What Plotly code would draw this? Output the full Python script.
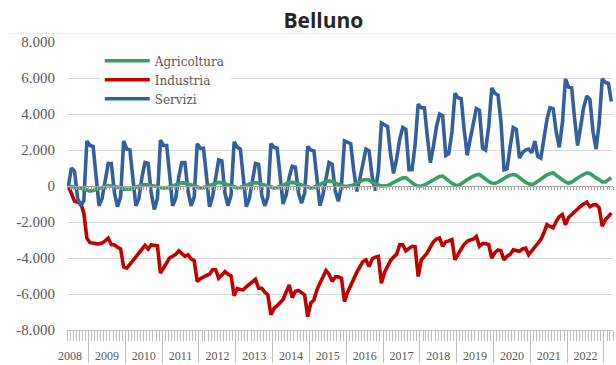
import pandas as pd
import plotly.graph_objects as go

chart_title = "Belluno"
first_month = "2008-06-01"
last_edge = "2023-04-01"
series_names = ["Agricoltura", "Industria", "Servizi"]
series_colors = ["#3a9f66", "#c00000", "#33609a"]

y_tickvals = [-8000, -6000, -4000, -2000, 0, 2000, 4000, 6000, 8000]
y_ticktext = ["-8.000", "-6.000", "-4.000", "-2.000", "0", "2.000", "4.000", "6.000", "8.000"]

# monthly values, Jun 2008 .. Mar 2023
agricoltura = (
    [0, -20, -50, -80, -120, -180, -250]
    + [-280, -250, -200, -120, -50, 0, 20, 0, -30, -60, -100, -180]
    + [-200, -180, -130, -60, 0, 50, 80, 70, 30, 0, -50, -120]
    + [-120, -100, -50, 20, 100, 150, 180, 160, 100, 50, 0, -80]
    + [-100, -80, -30, 50, 120, 180, 200, 180, 120, 50, 0, -80]
    + [-100, -80, -20, 50, 120, 170, 180, 170, 100, 40, -20, -90]
    + [-100, -80, -20, 60, 130, 190, 200, 180, 120, 60, 0, -80]
    + [-100, -80, 0, 100, 200, 250, 270, 250, 150, 80, 30, -20]
    + [-10, 0, 50, 150, 250, 330, 360, 330, 200, 100, 50, 0]
    + [0, 30, 100, 200, 300, 400, 450, 460, 300, 150, 50, 0]
    + [0, 50, 150, 250, 350, 450, 530, 550, 400, 250, 150, 60]
    + [30, 120, 250, 350, 450, 550, 620, 640, 500, 350, 250, 160]
    + [140, 220, 330, 420, 520, 600, 640, 600, 450, 300, 200, 120]
    + [80, 150, 280, 400, 500, 620, 700, 735, 600, 450, 350, 230]
    + [150, 220, 350, 450, 550, 650, 735, 700, 560, 450, 350, 220]
    + [220, 350, 460]
)

industria = (
    [0, -400, -850, -900, -950, -1500, -2900]
    + [-3150, -3200, -3200, -3220, -3170, -3050, -2900, -3250, -3270, -3400, -3500, -4500]
    + [-4560, -4350, -4150, -3950, -3750, -3550, -3300, -3500, -3260, -3300, -3320, -4840]
    + [-4550, -4280, -4000, -3900, -3800, -3600, -3750, -3910, -3820, -4050, -4150, -5300]
    + [-5150, -5030, -4970, -4900, -4650, -4650, -5120, -4950, -4750, -4900, -5000, -6100]
    + [-5700, -5750, -5770, -5600, -5450, -5310, -5180, -5680, -5680, -5900, -6050, -7150]
    + [-6800, -6650, -6500, -6300, -5900, -5500, -6200, -5850, -5800, -5950, -6050, -7260]
    + [-6500, -6330, -5800, -5400, -5000, -4700, -4900, -5300, -5050, -5050, -5120, -6420]
    + [-5900, -5500, -5100, -4800, -4500, -4200, -4100, -4470, -4050, -3950, -3910, -5400]
    + [-4800, -4400, -4150, -3950, -3800, -3260, -3260, -3600, -3450, -3350, -3380, -5030]
    + [-4100, -3900, -3720, -3400, -3100, -2950, -2890, -3350, -3100, -3050, -2980, -4100]
    + [-3750, -3500, -3250, -3070, -3000, -2950, -2800, -3350, -3200, -3200, -3260, -4000]
    + [-3700, -3550, -3600, -4100, -3900, -3800, -3550, -3600, -3630, -3500, -3450, -3820]
    + [-3600, -3450, -3200, -2980, -2600, -2150, -2250, -2330, -1960, -1700, -1590, -2150]
    + [-1750, -1590, -1400, -1250, -1120, -1000, -900, -1150, -1050, -1030, -1210, -2240]
    + [-1870, -1700, -1500]
)

servizi = (
    [0, 1000, 800, -700, -1100, -800, 2500]
    + [2250, 2200, 600, -1100, -700, 400, 1250, 1250, -400, -1150, -600, 2500]
    + [2050, 2000, 600, -1100, -700, 500, 1300, 1250, -400, -1300, -700, 2550]
    + [2250, 2250, 700, -1100, -700, 500, 1300, 1300, -300, -1100, -600, 2350]
    + [2100, 2100, 600, -1150, -600, 600, 1450, 1400, -400, -1100, -500, 2450]
    + [2150, 2050, 500, -1150, -700, 400, 1250, 1200, -500, -1100, -600, 2350]
    + [2150, 2100, 500, -1000, -500, 500, 1100, 1050, -400, -950, -400, 2200]
    + [2000, 1950, 500, -1100, -500, 500, 1300, 1200, -300, -850, 0, 2500]
    + [2400, 2350, 900, -300, 400, 1300, 2050, 1950, 500, -250, 800, 3500]
    + [3400, 3300, 1800, 700, 1500, 2600, 3250, 3150, 900, 900, 2300, 4550]
    + [4350, 4350, 2800, 1300, 2200, 3300, 4000, 3900, 1700, 1800, 3000, 5150]
    + [4900, 4850, 3200, 1700, 2600, 3600, 4300, 4200, 2100, 2000, 3300, 5450]
    + [5150, 5050, 3600, 900, 950, 2200, 3250, 3150, 1550, 1850, 2000, 2050]
    + [1850, 2500, 1650, 1550, 2600, 3700, 4350, 4300, 3000, 2150, 3500, 5950]
    + [5500, 5450, 3800, 2250, 3300, 4400, 5000, 4800, 3000, 2050, 3500, 5950]
    + [5750, 5700, 4700]
)

n = len(servizi)
months = pd.date_range(first_month, periods=n, freq="MS") + pd.Timedelta(days=14)

fig = go.Figure()
axes_for = ["x2", "x", "x"]
for name, vals, col, ax in zip(series_names, [agricoltura, industria, servizi], series_colors, axes_for):
    fig.add_trace(go.Scatter(x=months, y=vals, mode="lines", name=name, xaxis=ax, yaxis="y",
                             line=dict(color=col, width=3.6)))

serif = "Liberation Serif"
grey_txt = "#595959"
tick_col = "#bfbfbf"

fig.update_layout(
    width=616, height=365,
    margin=dict(l=67, r=3, t=42, b=35),
    paper_bgcolor="white", plot_bgcolor="white",
    title=dict(text="<b>" + chart_title + "</b>", x=0.525, xref="container", xanchor="center",
               y=0.944, yref="container", yanchor="middle",
               font=dict(family="Open Sans", size=21, color="#262626")),
    showlegend=True,
    legend=dict(x=0.06, y=0.985, xanchor="left", yanchor="top", bgcolor="white",
                font=dict(family="DejaVu Serif", size=12, color=grey_txt),
                tracegroupgap=0, itemwidth=45),
    xaxis=dict(type="date", range=[first_month, last_edge], dtick="M12", tick0="2008-01-01",
               ticklabelmode="period", tickformat="%Y", ticks="outside", ticklen=32,
               tickcolor=tick_col, tickwidth=1, showline=True, linecolor=tick_col,
               showgrid=False, zeroline=False, ticklabelstandoff=-17,
               tickfont=dict(family=serif, size=12, color=grey_txt),
               minor=dict(dtick="M1", tick0="2008-01-01", ticks="outside", ticklen=10,
                          tickcolor=tick_col, tickwidth=1, showgrid=False)),
    xaxis2=dict(type="date", overlaying="x", matches="x", anchor="free", position=0.5,
                side="bottom", showline=True, linecolor="#a6a6a6", ticks="outside",
                ticklen=3, tickcolor="#a6a6a6", dtick="M1", tick0="2008-01-01",
                showticklabels=False, showgrid=False, zeroline=False),
    yaxis=dict(range=[-8000, 8000], tickvals=y_tickvals, ticktext=y_ticktext,
               showgrid=True, gridcolor="#d9d9d9", gridwidth=1, zeroline=False,
               showline=False, ticks="", ticklabelstandoff=11,
               tickfont=dict(family=serif, size=15, color=grey_txt)),
    shapes=[dict(type="line", xref="paper", yref="paper", x0=-0.105, x1=1.01,
                 y0=1.03, y1=1.03, line=dict(color="#ececec", width=1), layer="below")],
)

fig.write_html("out.html")
